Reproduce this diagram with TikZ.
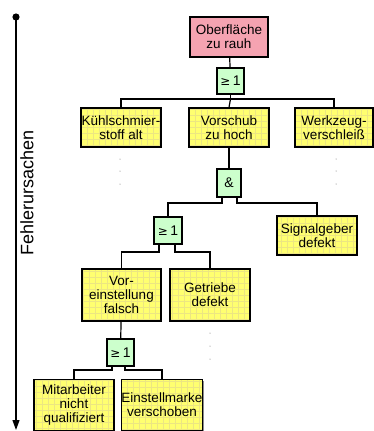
\documentclass[tikz,border=0pt]{standalone}
\usepackage{fontspec}
\setmainfont{Liberation Sans}
\newfontfamily\symfont{DejaVu Sans}
\usepackage{xcolor}
\usepackage{tikz}
\usetikzlibrary{arrows.meta}
\usetikzlibrary{shadows}
\definecolor{causeyellow}{HTML}{FFFF70}
\definecolor{causegrid}{HTML}{ECE682}
\definecolor{toppink}{HTML}{F5A3B1}
\definecolor{gategreen}{HTML}{CCFFCC}
\tikzset{
    cause/.style = {draw, line width=1.1pt, fill=causeyellow, inner sep=0pt,
        minimum width=80pt, minimum height=39pt, align=center,
        font=\fontsize{13.5}{13.8}\selectfont,
        drop shadow={shadow xshift=1.2pt, shadow yshift=-1.2pt, fill=black!45, opacity=1},
        path picture={\draw[causegrid, line width=0.4pt]
            (path picture bounding box.south west) grid[step=6pt]
            (path picture bounding box.north east);}},
    event/.style = {draw, line width=1.1pt, fill=toppink, inner sep=0pt,
        minimum width=78pt, minimum height=40pt, align=center,
        font=\fontsize{13.5}{13.8}\selectfont,
        drop shadow={shadow xshift=1.2pt, shadow yshift=-1.2pt, fill=black!45, opacity=1}},
    gate/.style = {draw, line width=1.1pt, fill=gategreen, inner sep=0pt,
        minimum width=27pt, minimum height=26pt, align=center,
        font=\fontsize{14}{15}\selectfont,
        drop shadow={shadow xshift=1.2pt, shadow yshift=-1.2pt, fill=black!45, opacity=1}},
    link/.style = {line width=1.2pt},
    ellip/.style = {fill=black!60}
}
\newcommand{\ortext}{{\symfont\fontsize{12}{14}\selectfont ≥}\,1}

\begin{document}
\begin{tikzpicture}[x=1pt, y=-1pt]
    \useasboundingbox (0,0) rectangle (374,431);
    % time axis on the left
    \coordinate (axtop) at (16,17);
    \coordinate (axbot) at (16,430);
    \fill (axtop) circle (3.6);
    \draw[line width=1.2pt, -{Triangle[width=7pt,length=10pt]}] (axtop) -- (axbot);
    \node[rotate=90, font=\fontsize{18}{20}\selectfont] (axlabel) at (27,193) {Fehlerursachen};
    % top event and first gate
    \node [event] (top) at (229,37) {Oberfläche\\zu rauh};
    \node [gate] (or1) at (230.5,81) {\ortext};
    \node [cause] (kuehl) at (121,127.5) {Kühlschmier-\\stoff alt};
    \node [cause] (vorschub) at (229,127.5) {Vorschub\\zu hoch};
    \node [cause, minimum width=78pt] (werkzeug) at (334,127.5) {Werkzeug-\\verschleiß};
    % second level
    \node [gate, minimum width=24pt, minimum height=28pt] (and1) at (229,183) {\&};
    \node [cause] (signal) at (317,235.5) {Signalgeber\\defekt};
    \node [gate, minimum width=28pt, minimum height=27pt] (or2) at (168,230.5) {\ortext};
    % third level
    \node [cause, minimum width=79pt, minimum height=52pt] (vorein) at (121.5,295) {Vor-\\einstellung\\falsch};
    \node [cause, minimum height=52pt] (getriebe) at (210,295) {Getriebe\\defekt};
    \node [gate, minimum height=27pt] (or3) at (120.5,352.5) {\ortext};
    \node [cause, minimum height=51pt] (mitarb) at (74,405) {Mitarbeiter\\nicht\\qualifiziert};
    \node [cause, minimum height=51pt] (marke) at (162,405) {Einstellmarke\\verschoben};

    % connectors
    \draw [link] (top) -- (or1);
    \draw [link] (or1.south) |- (kuehl.north |- 0,99) -- (kuehl.north);
    \draw [link] (or1.south |- 0,99) -| (werkzeug.north);
    \draw [link] (or1.south |- 0,99) -- (vorschub.north);
    \draw [link] (vorschub) -- (and1);
    \draw [link] ([xshift=-7pt]and1.south) |- (or2.north |- 0,203) -- (or2.north);
    \draw [link] ([xshift=8pt]and1.south) |- (signal.north |- 0,203) -- (signal.north);
    \draw [link] ([xshift=-9pt]or2.south) |- (vorein.north |- 0,252) -- (vorein.north);
    \draw [link] ([xshift=7pt]or2.south) |- (getriebe.north |- 0,252) -- (getriebe.north);
    \draw [link] (vorein) -- (or3);
    \draw [link] ([xshift=-8.5pt]or3.south) |- (mitarb.north |- 0,370) -- (mitarb.north);
    \draw [link] ([xshift=4.5pt]or3.south) |- (marke.north |- 0,370) -- (marke.north);

    % omitted branches
    \foreach \y in {159,171,184} {
        \fill [ellip] (120,\y) circle (0.5);
        \fill [ellip] (336,\y) circle (0.5);
    }
    \foreach \y in {333,346,359}
        \fill [ellip] (210,\y) circle (0.5);
\end{tikzpicture}
\end{document}
